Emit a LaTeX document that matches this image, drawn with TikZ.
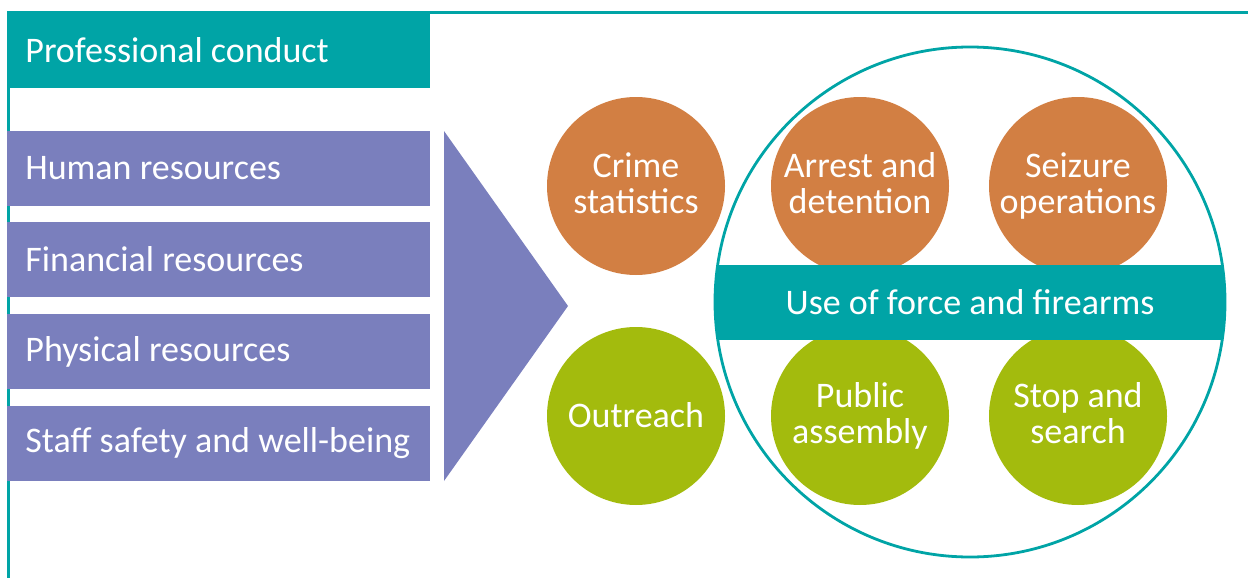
\documentclass[tikz,border=0pt]{standalone}
\usepackage{fontspec}
\setmainfont{Carlito}
\definecolor{conductteal}{HTML}{00A4A6}
\definecolor{resblue}{HTML}{7A7FBD}
\definecolor{opsorange}{HTML}{D27F43}
\definecolor{comgreen}{HTML}{A3BB0D}
\newcommand{\ballstrut}{\rule[-3pt]{0pt}{17pt}}
\begin{document}
\begin{tikzpicture}[x=0.5pt,y=-0.5pt]
		  \tikzstyle{every node}=[text=white,font=\fontsize{18pt}{18pt}\selectfont];
		  \tikzstyle{bar}=[rectangle,anchor=west,inner xsep=0pt,text width=211.5pt,align=flush left,minimum height=37.5pt,execute at begin node=\hspace*{9pt}];
		  \tikzstyle{ball}=[circle,minimum size=89pt,inner sep=0pt,align=center,execute at begin node=\ballstrut,execute at end node=\ballstrut];
			\useasboundingbox (0,0) rectangle (1248,578);

			% frame
			\path[draw=conductteal,line width=1.3pt] (1248,12.5) -- (8.5,12.5) -- (8.5,578);
			\path[fill=conductteal] (7,50) node[bar,fill=conductteal] (conduct) {Professional conduct};

			% resources
			\path (7,168.5) node[bar,fill=resblue] (human) {Human resources};
			\path (7,259.5) node[bar,fill=resblue] (finance) {Financial resources};
			\path (7,351.5) node[bar,fill=resblue] (physical) {Physical resources};
			\path (7,443.5) node[bar,fill=resblue] (safety) {Staff safety and well-being};
			\path[fill=resblue] (444,131) -- (568,306) -- (444,481) -- cycle;

			% operations
			\path (636,186) node[ball,fill=opsorange] (crime) {Crime\\statistics};
			\path (860,186) node[ball,fill=opsorange] (arrest) {Arrest and\\detention};
			\path (1078,186) node[ball,fill=opsorange] (seizure) {Seizure\\operations};
			\path (636,416) node[ball,fill=comgreen] (outreach) {Outreach};
			\path (860,416) node[ball,fill=comgreen] (assembly) {Public\\assembly};
			\path (1078,416) node[ball,fill=comgreen] (stop) {Stop and\\search};

			\begin{scope}
			  \path[clip] (970,302) circle[radius=127.5pt];
			  \path (970,302) node[fill=conductteal,minimum width=255pt,minimum height=37.5pt] (force) {Use of force and firearms};
			\end{scope}
			\path (970,302) node[circle,draw=conductteal,line width=1.4pt,minimum size=255pt] (ring) {};
		\end{tikzpicture}
\end{document}
